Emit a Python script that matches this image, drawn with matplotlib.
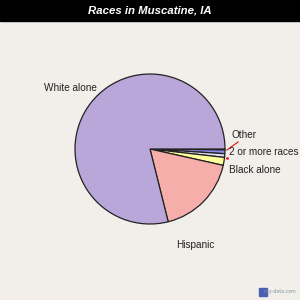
import matplotlib.pyplot as plt

# Races in Muscatine, IA (shares in %, clockwise from 3 o'clock)
races = ["Other", "2 or more races", "Asian alone", "Black alone", "Hispanic", "White alone"]
shares = [0.2, 0.8, 0.8, 1.7, 17.6, 78.9]
colors = ["#30307a", "#8c8ce8", "#dcdaf2", "#ffff9c", "#f6aeab", "#b9a7da"]

BG = "#f2efeb"
H = 300


def main():
    fig = plt.figure(figsize=(3, 3), dpi=100, facecolor=BG)
    ax = fig.add_axes([0, 0, 1, 1])
    ax.set_facecolor(BG)

    # title bar
    ax.add_patch(plt.Rectangle((0, H - 21), 300, 21, color="black", zorder=1))
    ax.text(150, H - 10.5, "Races in Muscatine, IA", color="white", fontsize=8.2,
            fontweight="bold", fontstyle="italic", ha="center", va="center",
            family="Liberation Sans", zorder=2)

    ax.pie(shares, colors=colors, startangle=0, counterclock=False,
           center=(150, H - 149), radius=75, frame=True,
           wedgeprops=dict(edgecolor="#222222", linewidth=0.9))
    ax.set_xlim(0, 300)
    ax.set_ylim(0, 300)
    ax.axis("off")

    lab = dict(fontsize=7.2, family="Liberation Sans", color="#222222", va="center")
    ax.text(70, H - 88, "White alone", ha="center", **lab)
    ax.text(232, H - 135, "Other", ha="left", **lab)
    ax.text(229, H - 152, "2 or more races", ha="left", **lab)
    ax.text(229, H - 170, "Black alone", ha="left", **lab)
    ax.text(195, H - 245, "Hispanic", ha="center", **lab)
    ax.plot([238, 227], [H - 142, H - 150], color="#dd2222", linewidth=0.9)
    ax.plot([227], [H - 158], marker="o", markersize=1, color="#dd2222")

    # watermark
    ax.add_patch(plt.Rectangle((259, 4), 8, 8, color="#4a5fb0"))
    ax.text(297, 8, "city-data.com", fontsize=3.4, color="#8090a0",
            ha="right", va="center", family="DejaVu Sans")

    fig.savefig("out.png", dpi=100, facecolor=BG)


if __name__ == "__main__":
    main()
